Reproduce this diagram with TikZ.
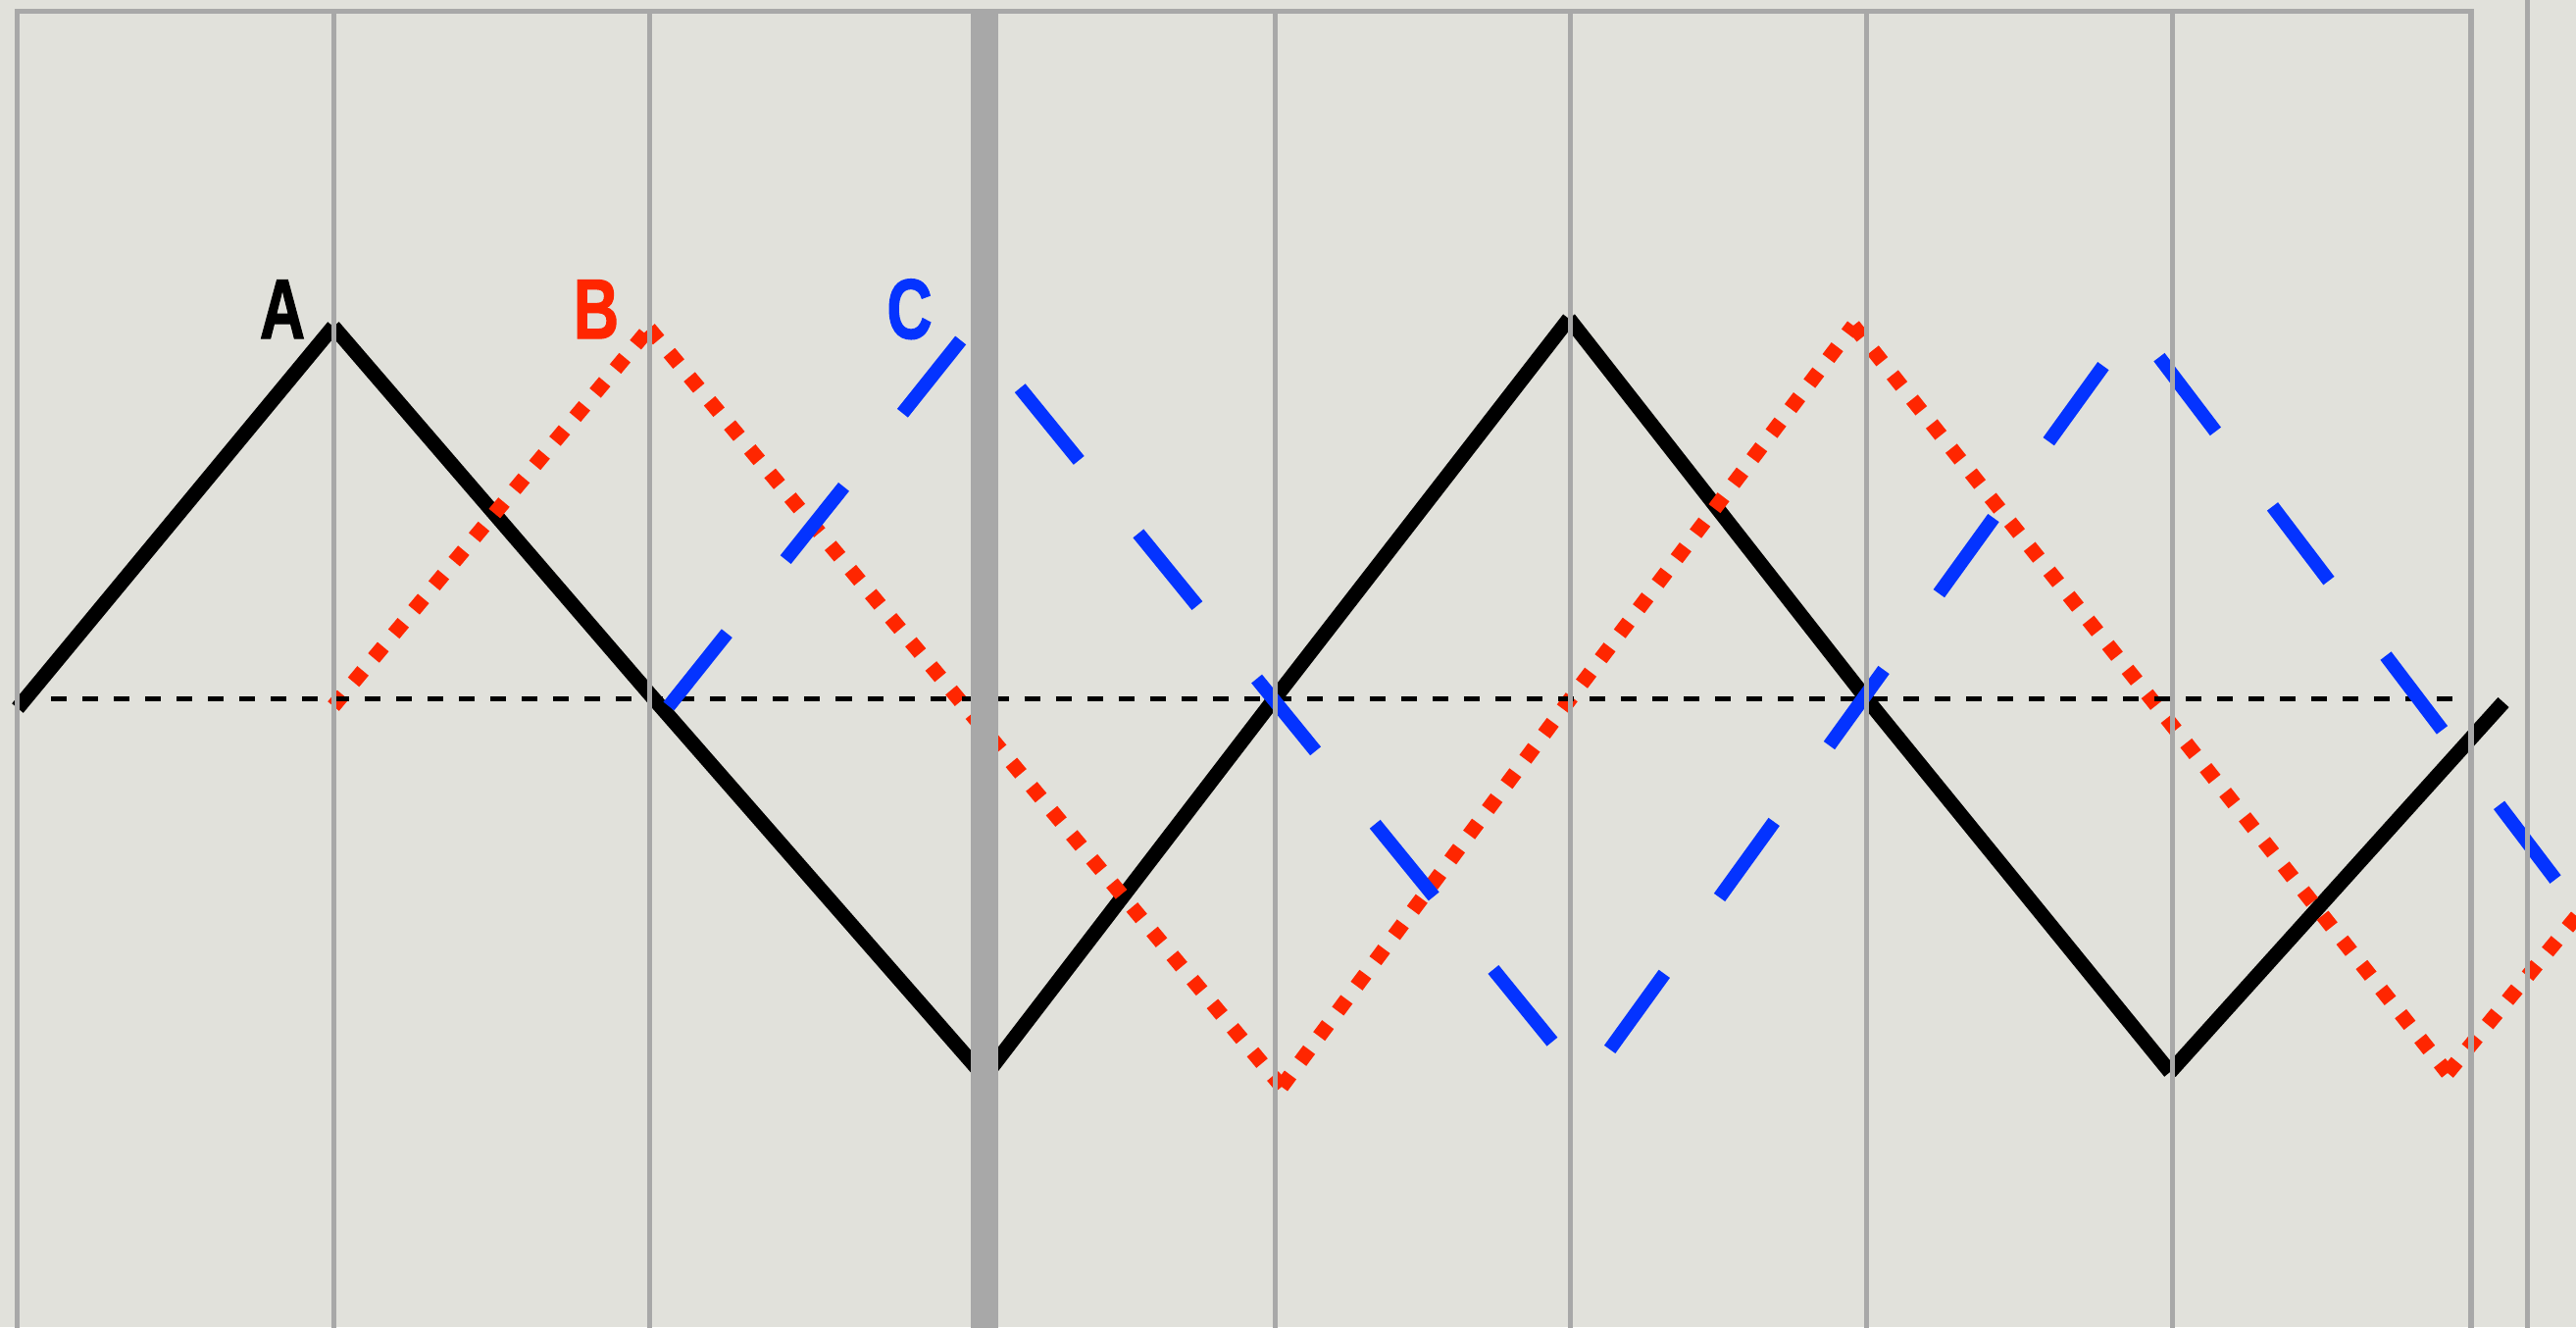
\documentclass[tikz,border=0pt]{standalone}
\usepackage{fontspec}
\setmainfont{Liberation Sans}
\newfontfamily\labfont[FakeBold=1.6]{Liberation Sans Bold}
\definecolor{bgpaper}{RGB}{225,225,219}
\definecolor{gridgray}{RGB}{168,168,168}
\definecolor{wred}{RGB}{255,38,0}
\definecolor{wblue}{RGB}{4,51,255}
\begin{document}
\begin{tikzpicture}[x=0.01cm,y=-0.01cm,
  wavea/.style={line width=0.15cm, black, line cap=butt},
  waveb/.style={line width=0.15cm, wred, dash pattern=on 0.15cm off 0.17cm},
  wavec/.style={line width=0.14cm, wblue, dash pattern=on 0.95cm off 0.96cm},
  zeroline/.style={line width=0.055cm, black, dash pattern=on 0.16cm off 0.16cm},
  gridline/.style={gridgray, line width=0.05cm},
  gridframe/.style={gridgray, line width=0.055cm},
  gridbar/.style={fill=gridgray, draw=none},
  lab/.style={font=\fontsize{24.6pt}{28pt}\labfont, inner sep=0pt, anchor=base}]
\useasboundingbox (0,0) rectangle (2627,1353);
\fill[bgpaper] (0,0) rectangle (2627,1353);
\begin{scope}
\clip (0,0) rectangle (2627,1353);
% wave A vertices
\coordinate (a0) at (18,722);
\coordinate (a1) at (340,333);
\coordinate (a2) at (662,707);
\coordinate (a3) at (1004,1098);
\coordinate (a4) at (1300,712);
\coordinate (a5) at (1600,325);
\coordinate (a6) at (1903,712);
\coordinate (a7) at (2213,1093);
\coordinate (a8) at (2553,716);
% wave B vertices
\coordinate (b0) at (340,720);
\coordinate (b1) at (662,335);
\coordinate (b2) at (987,724);
\coordinate (b3) at (1307,1108);
\coordinate (b4) at (1598,717);
\coordinate (b5) at (1890,332);
\coordinate (b6) at (2198,718);
\coordinate (b7) at (2496,1094);
\coordinate (b8) at (2680,871);
% wave C vertices
\coordinate (c0) at (682,720);
\coordinate (c1) at (990,334);
\coordinate (c2) at (1617,1104);
\coordinate (c3) at (2176,330);
\coordinate (c4) at (2680,994);
% zero line
\coordinate (z0) at (52,712.5);
\coordinate (z1) at (2502,712.5);

\draw[wavea] (a0) -- (a1) (a1) -- (a2) -- (a3) (a3) -- (a4) -- (a5)
  (a5) -- (a6) -- (a7) (a7) -- (a8);
\draw[waveb] (b0) -- (b1) (b1) -- (b2) -- (b3) (b3) -- (b4) -- (b5)
  (b5) -- (b6) -- (b7) (b7) -- (b8);
\draw[zeroline] (z0) -- (z1);
\draw[wavec] (c0) -- (c1) -- (c2) -- (c3) -- (c4);

% grid
\draw[gridframe] (17.5,1400) -- (17.5,11.7) -- (2520,11.7) -- (2520,1400);
\foreach \gx in {340,662,1300,1601,1903,2215}
  \draw[gridline] (\gx,14) -- (\gx,1400);
\draw[gridline] (2577.5,-10) -- (2577.5,1400);
\fill[gridbar] (990,14) rectangle (1018,1400);
\end{scope}

\node[lab, text=black] (labA) at (288,345) {\scalebox{0.74}[1]{A}};
\node[lab, text=wred] (labB) at (608,345) {\scalebox{0.74}[1]{B}};
\node[lab, text=wblue] (labC) at (927.5,345) {\scalebox{0.74}[1]{C}};
\end{tikzpicture}
\end{document}
